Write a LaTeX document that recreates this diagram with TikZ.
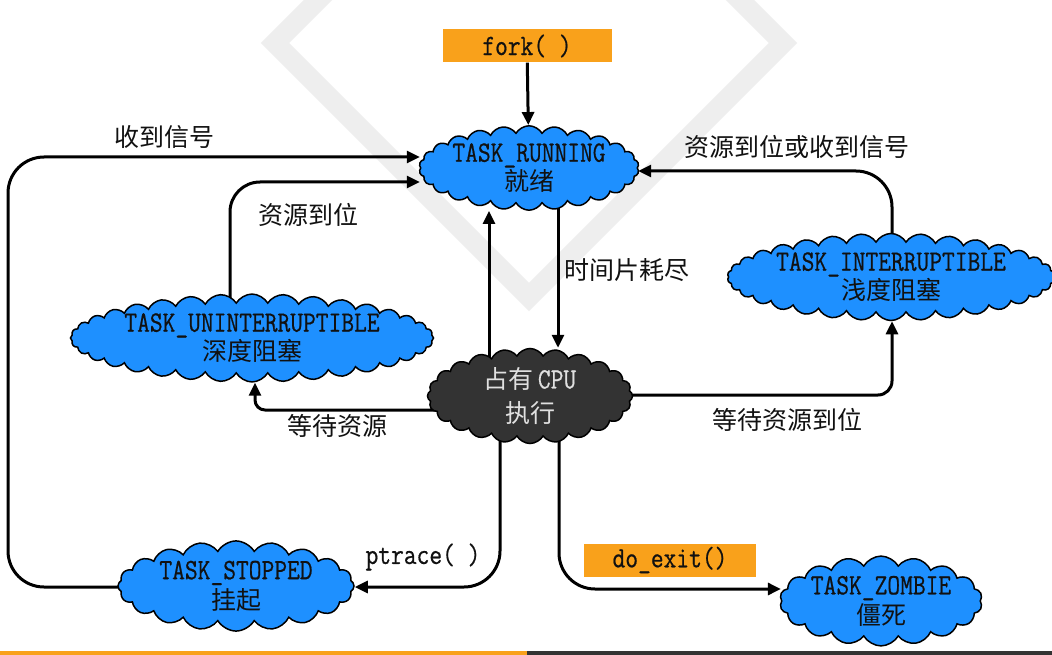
\documentclass[tikz,border=0pt]{standalone}
\usepackage{fontspec}
\usetikzlibrary{shapes.symbols,arrows.meta,backgrounds}
\newfontfamily\cjkf{Noto Sans CJK SC}
\newfontfamily\latf[FakeStretch=0.84,FakeBold=0.6]{Latin Modern Mono}
\newcommand\zh{\cjkf\fontsize{25}{26}\selectfont}
\newcommand\en{\latf\fontsize{29.5}{26}\selectfont}
\definecolor{stblue}{HTML}{1E90FF}
\definecolor{cpugray}{HTML}{333333}
\definecolor{orangebox}{HTML}{F9A11B}
\definecolor{wm}{HTML}{EEEEEE}
\definecolor{ink}{HTML}{111111}
\begin{document}
\begin{tikzpicture}[x=1pt,y=-1pt,
  st/.style={cloud, cloud ignores aspect, cloud puff arc=120, draw=black, line width=1.5pt,
    fill=stblue, inner sep=0pt, align=center, text=ink},
  cpust/.style={st, fill=cpugray, text=white!88!black},
  orbox/.style={fill=orangebox, inner sep=0pt, text=ink},
  lbl/.style={inner sep=0pt, text=ink},
  arr/.style={line width=3pt, -{Triangle[length=13pt,width=12pt]}},
]
\useasboundingbox (0,0) rectangle (1052,655);
\begin{scope}[on background layer]
  \fill[white] (0,0) rectangle (1052,655);
  \clip (0,0) rectangle (1052,655);
  \draw[wm, line width=20pt, line join=miter] (275,43) -- (529,297) -- (783,43) -- (529,-211) -- cycle;
  \fill[orangebox] (0,651) rectangle (527,655);
  \fill[cpugray] (527,651) rectangle (1052,655);
\end{scope}

% nodes
\node[orbox, minimum width=169pt, minimum height=33pt] (fork) at (527,46) {\en fork( )};
\node[st, cloud puffs=26, minimum width=202pt, minimum height=70pt] (run) at (529,168)
  {\en TASK\_RUNNING\\[1pt]\zh 就绪};
\node[st, cloud puffs=36, minimum width=355pt, minimum height=83pt] (unint) at (252,338)
  {\en TASK\_UNINTERRUPTIBLE\\[1pt]\zh 深度阻塞};
\node[cpust, cloud puffs=24, minimum width=205pt, minimum height=95pt] (cpu) at (530,396)
  {\zh 占有\,{\en CPU}\\[10pt]\zh 执行};
\node[st, cloud puffs=34, minimum width=312pt, minimum height=70pt] (intr) at (891,277)
  {\en TASK\_INTERRUPTIBLE\\[1pt]\zh 浅度阻塞};
\node[st, cloud puffs=20, minimum width=236pt, minimum height=80pt] (stop) at (236,586)
  {\en TASK\_STOPPED\\[2pt]\zh 挂起};
\node[st, cloud puffs=18, minimum width=198pt, minimum height=76pt] (zomb) at (881,601)
  {\en TASK\_ZOMBIE\\[2pt]\zh 僵死};
\node[orbox, minimum width=172pt, minimum height=33pt] (exit) at (670,560) {\en do\_exit()};

% labels
\node[lbl] (l1) at (164,137) {\zh 收到信号};
\node[lbl] (l2) at (308,215) {\zh 资源到位};
\node[lbl] (l3) at (627,270) {\zh 时间片耗尽};
\node[lbl] (l4) at (797,147) {\zh 资源到位或收到信号};
\node[lbl] (l5) at (337,426) {\zh 等待资源};
\node[lbl] (l6) at (787,420) {\zh 等待资源到位};
\node[lbl] (l7) at (423,557) {\en ptrace( )};

% helper coordinates
\coordinate (lx) at (8,0);
\coordinate (y1) at (0,157);
\coordinate (ux) at (230,0);
\coordinate (y2) at (0,182);
\coordinate (ax) at (489,0);
\coordinate (bx) at (558,0);
\coordinate (wy) at (0,410);
\coordinate (ux2) at (255,0);
\coordinate (ey) at (0,395);
\coordinate (ix) at (892,0);
\coordinate (y3) at (0,171);
\coordinate (px) at (500,0);
\coordinate (sy) at (0,587);
\coordinate (zx) at (559,0);
\coordinate (zy) at (0,589);

\begin{scope}[on background layer]
  \draw[arr] (fork) -- (run);
  \draw[arr, rounded corners=36pt] (stop.center |- sy) -- (lx |- sy) -- (lx |- y1) -- (run.west |- y1);
  \draw[arr, rounded corners=30pt] (ux |- unint.center) -- (ux |- y2) -- (run.west |- y2);
  \draw[arr] (ax |- cpu.center) -- (run.south -| ax);
  \draw[arr] (bx |- run.center) -- (cpu.north -| bx);
  \draw[arr, rounded corners=10pt] (cpu.center |- wy) -- (ux2 |- wy) -- (unint.south -| ux2);
  \draw[arr, rounded corners=14pt] (cpu.center |- ey) -- (ix |- ey) -- (intr.south -| ix);
  \draw[arr, rounded corners=36pt] (ix |- intr.center) -- (ix |- y3) -- (run.east |- y3);
  \draw[arr, rounded corners=36pt] (px |- cpu.center) -- (px |- sy) -- (stop.east |- sy);
  \draw[arr, rounded corners=36pt] (zx |- cpu.center) -- (zx |- zy) -- (zomb.west |- zy);
\end{scope}
\end{tikzpicture}
\end{document}
